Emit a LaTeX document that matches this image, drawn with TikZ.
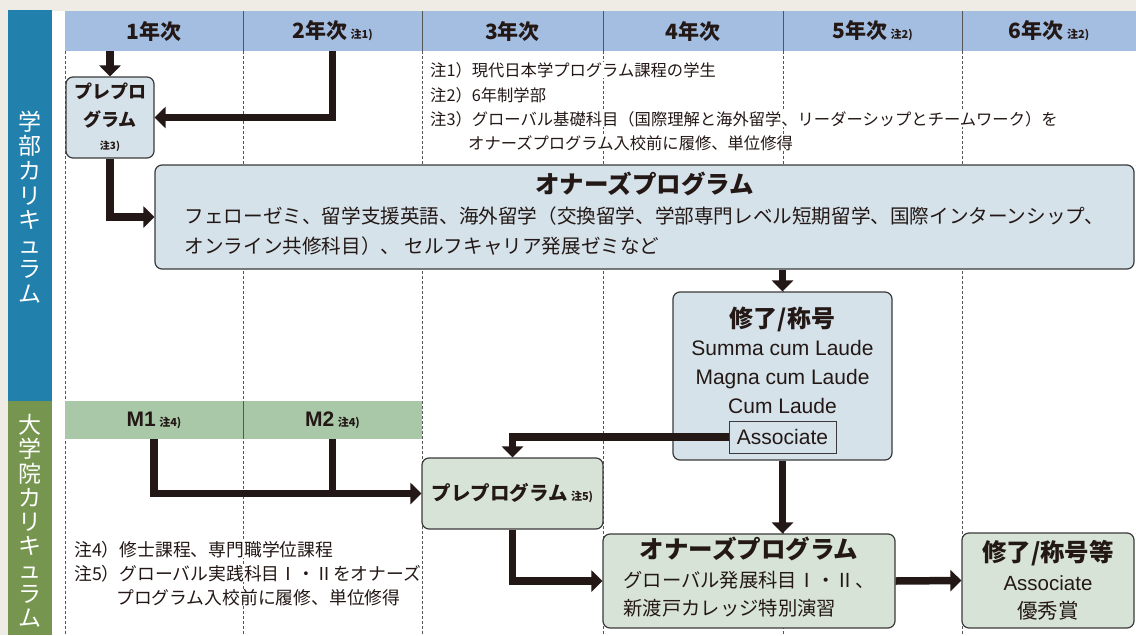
\documentclass[tikz,border=0pt]{standalone}
\usepackage{fontspec}
\setmainfont{Noto Sans CJK JP}
\newfontfamily\lat{Liberation Sans}
\usetikzlibrary{arrows.meta}
\definecolor{beige}{HTML}{EFECE5}
\definecolor{sideblue}{HTML}{2280AD}
\definecolor{sidegreen}{HTML}{76964F}
\definecolor{hdrblue}{HTML}{A4BEE1}
\definecolor{mgreen}{HTML}{A8C8A8}
\definecolor{boxblue}{HTML}{D5E2EA}
\definecolor{boxgreen}{HTML}{D8E3D7}
\definecolor{bordc}{HTML}{3A3A3A}
\definecolor{arrowc}{HTML}{231815}
\definecolor{textc}{HTML}{231815}
\definecolor{gridc}{HTML}{555555}
\newcommand\myfs[2]{\fontsize{#1}{#2}\selectfont}
\begin{document}
\begin{tikzpicture}[x=1pt,y=-1pt,
  every node/.append style={text=textc},
  gridline/.style={draw=gridc,line width=0.7pt,dash pattern=on 3pt off 2pt},
  hdrline/.style={draw=gridc,line width=0.8pt},
  hdr/.style={fill=hdrblue,minimum height=40pt,inner sep=0pt,font=\myfs{21}{24}\bfseries},
  mcell/.style={fill=mgreen,minimum height=38pt,inner sep=0pt,font=\myfs{21}{24}\bfseries},
  boxA/.style={draw=bordc,line width=1.2pt,fill=boxblue,rounded corners=7pt,inner sep=0pt},
  boxB/.style={draw=bordc,line width=1.2pt,fill=boxgreen,rounded corners=7pt,inner sep=0pt},
  assocbox/.style={draw=bordc,line width=1pt,fill=boxblue,inner sep=0pt,minimum width=107pt,minimum height=32pt,font=\lat\myfs{21}{24}},
  note/.style={fill=white,inner sep=0pt,anchor=base west},
  side/.style={text=white,align=center,inner sep=0pt},
  arr/.style={draw=arrowc,line width=7.5pt,-{Triangle[width=21pt,length=11pt]}},
  plainarr/.style={draw=arrowc,line width=7.5pt}
]
\useasboundingbox (0,0) rectangle (1136,635);
\fill[white] (0,0) rectangle (1136,635);
\fill[beige] (0,0) rectangle (1136,11);
\fill[beige] (0,0) rectangle (8,635);
\fill[sideblue] (8,10) rectangle (52,401);
\fill[sidegreen] (8,401) rectangle (52,635);

% sidebar labels
\node[side,font=\myfs{23}{24.6}] (sideA) at (30,207) {学\\部\\カ\\リ\\キ\\ュ\\ラ\\ム};
\node[side,font=\myfs{23}{24.1}] (sideB) at (30,521) {大\\学\\院\\カ\\リ\\キ\\ュ\\ラ\\ム};

% grid
\foreach \x in {65,243,422,603,783,962} \draw[gridline] (\x,51) -- (\x,635);

% header
\node[hdr,minimum width=178pt] (y1) at (154,31) {1年次};
\node[hdr,minimum width=179pt] (y2) at (332.5,31) {2年次\,{\myfs{11}{12}注1)}};
\node[hdr,minimum width=181pt] (y3) at (512.5,31) {3年次};
\node[hdr,minimum width=180pt] (y4) at (693,31) {4年次};
\node[hdr,minimum width=179pt] (y5) at (872.5,31) {5年次\,{\myfs{11}{12}注2)}};
\node[hdr,minimum width=174pt] (y6) at (1049,31) {6年次\,{\myfs{11}{12}注2)}};
\foreach \x in {243,422,603,783,962} \draw[hdrline] (\x,11) -- (\x,51);

% M band
\node[mcell,minimum width=178pt] (m1) at (154,420) {{\lat M1}\,{\myfs{11}{12}注4)}};
\node[mcell,minimum width=179pt] (m2) at (332.5,420) {{\lat M2}\,{\myfs{11}{12}注4)}};
\draw[hdrline] (243,401) -- (243,439);

% notes top
\node[note] (n1) at (430,76) {\myfs{16.3}{20}注1）現代日本学プログラム課程の学生};
\node[note] (n2) at (430,101) {\myfs{16.3}{20}注2）6年制学部};
\node[note] (n3) at (430,125) {\myfs{16.3}{20}注3）グローバル基礎科目（国際理解と海外留学、リーダーシップとチームワーク）を};
\node[note] (n4) at (468,149) {\myfs{16.3}{20}オナーズプログラム入校前に履修、単位修得};

% notes bottom
\node[note] (n5) at (74,556.5) {\myfs{17.8}{20}注4）修士課程、専門職学位課程};
\node[note] (n6) at (74,580) {\myfs{17.8}{20}注5）グローバル実践科目Ⅰ・Ⅱをオナーズ};
\node[note] (n7) at (116,604) {\myfs{17.8}{20}プログラム入校前に履修、単位修得};

% boxes
\node[boxA,minimum width=88pt,minimum height=81pt,align=center,font=\myfs{18}{28}\bfseries] (preA) at (110,117.5)
  {プレプロ\\グラム\\[-5pt]{\myfs{10}{12}注3)}};
\node[boxA,minimum width=979pt,minimum height=104pt,font=\myfs{19.6}{30}] (honA) at (644.5,217)
  {\begin{tabular}{@{}l@{}}\multicolumn{1}{@{}c@{}}{\myfs{24.5}{30}\bfseries オナーズプログラム}\\
   フェローゼミ、留学支援英語、海外留学（交換留学、学部専門レベル短期留学、国際インターンシップ、\\
   オンライン共修科目）、 セルフキャリア発展ゼミなど\end{tabular}};
\node[boxA,minimum width=219pt,minimum height=168pt] (compA) at (782.5,376) {};
\node[align=center,inner sep=0pt,font=\lat\myfs{21}{28.7}] (compAtxt) at (782.5,360)
  {{\rmfamily\myfs{24}{28.7}\bfseries 修了/称号}\\Summa cum Laude\\Magna cum Laude\\Cum Laude};
\node[assocbox] (assoc) at (782.5,437) {Associate};

\node[boxB,minimum width=181pt,minimum height=71pt,font=\myfs{19.5}{24}\bfseries] (preB) at (512.5,493.5)
  {プレプログラム\,{\myfs{11}{12}注5)}};
\node[boxB,minimum width=292pt,minimum height=94pt,font=\myfs{19.3}{28.5}] (honB) at (749,581)
  {\begin{tabular}{@{}l@{}}\multicolumn{1}{@{}c@{}}{\myfs{24.5}{28.5}\bfseries オナーズプログラム}\\
   グローバル発展科目Ⅰ・Ⅱ、\\新渡戸カレッジ特別演習\end{tabular}};
\node[boxB,minimum width=172pt,minimum height=95pt,align=center,font=\myfs{20.5}{28.5}] (finB) at (1048,580.5)
  {{\myfs{24.5}{28.5}\bfseries 修了/称号等}\\{\lat Associate}\\優秀賞};

% connectors
\draw[arr] (y1.south -| preA.north) -- (preA.north);
\draw[arr] (y2.south) |- (preA.east);
\draw[arr] (preA.south) |- (honA.west);
\draw[arr] (honA.south -| compA.north) -- (compA.north);
\draw[arr] (assoc.west) -| (preB.north);
\draw[arr] (m1.south) |- (preB.west);
\draw[plainarr] (m2.south) -- (m2.south |- preB.west);
\draw[arr] (preB.south) |- (honB.west);
\draw[arr] (compA.south) -- (compA.south |- honB.north);
\draw[arr] (honB.east) -- (finB.west);
\end{tikzpicture}
\end{document}
